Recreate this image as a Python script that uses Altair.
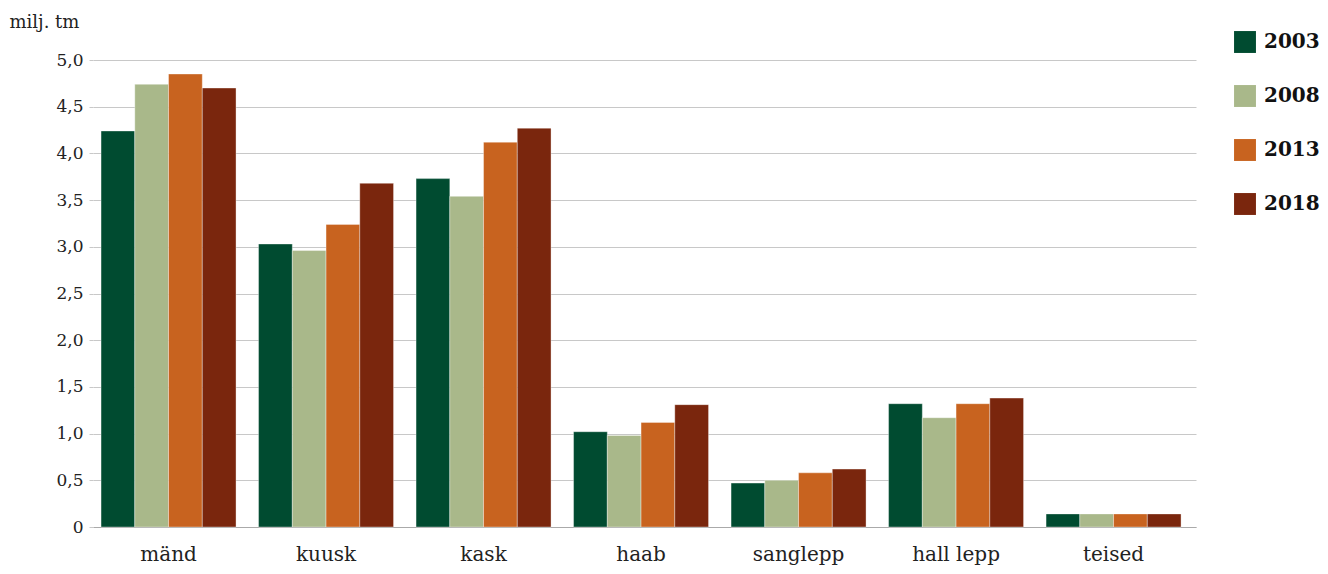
import altair as alt
import pandas as pd

categories = ["mänd", "kuusk", "kask", "haab", "sanglepp", "hall lepp", "teised"]
years = ["2003", "2008", "2013", "2018"]
v2003 = [4.24, 3.03, 3.73, 1.02, 0.47, 1.32, 0.14]
v2008 = [4.74, 2.96, 3.54, 0.98, 0.50, 1.17, 0.14]
v2013 = [4.85, 3.24, 4.12, 1.12, 0.58, 1.32, 0.14]
v2018 = [4.70, 3.68, 4.27, 1.31, 0.62, 1.38, 0.14]
colors = ["#004b30", "#a9b88a", "#c8631f", "#7a260d"]

rows = []
for y, vals in zip(years, [v2003, v2008, v2013, v2018]):
    for c, v in zip(categories, vals):
        rows.append({"liik": c, "aasta": y, "väärtus": v})
df = pd.DataFrame(rows)

FONT = "DejaVu Serif"

chart = alt.Chart(df).mark_bar(stroke="white", strokeWidth=0.6, strokeOpacity=0.6).encode(
    x=alt.X("liik:N", sort=categories,
            scale=alt.Scale(paddingInner=0.143, paddingOuter=0.073, align=0.35),
            axis=alt.Axis(title=None, labelAngle=0, ticks=False, labelPadding=17,
                          labelFontSize=20, labelFont=FONT, labelColor="#222",
                          domainColor="#aaaaaa", domainWidth=1)),
    xOffset=alt.XOffset("aasta:N", sort=years),
    y=alt.Y("väärtus:Q", scale=alt.Scale(domain=[0, 5]),
            axis=alt.Axis(values=[0, 0.5, 1, 1.5, 2, 2.5, 3, 3.5, 4, 4.5, 5],
                          labelExpr="datum.value == 0 ? '0' : replace(format(datum.value, '.1f'), '.', ',')",
                          title="milj. tm", titleAngle=0, titleAlign="left",
                          titleBaseline="alphabetic", titleX=-84, titleY=-33,
                          titleFont=FONT, titleFontSize=18, titleFontWeight="normal",
                          titleColor="#222",
                          labelFont=FONT, labelFontSize=17, labelColor="#222",
                          labelPadding=6, tickSize=4, tickColor="#c8c8c8",
                          domain=False, gridColor="#c8c8c8", gridWidth=1)),
    color=alt.Color("aasta:N", sort=years,
                    scale=alt.Scale(domain=years, range=colors),
                    legend=alt.Legend(title=None, orient="none", legendX=1141, legendY=-29,
                                      symbolType="square", symbolSize=480,
                                      symbolStrokeWidth=0, rowPadding=32,
                                      labelFont=FONT, labelFontSize=20,
                                      labelFontWeight="bold", labelColor="#111",
                                      labelOffset=8)),
).properties(
    width=1103, height=467,
    autosize=alt.AutoSizeParams(type="none"),
    padding={"left": 85, "top": 52, "right": 124, "bottom": 39},
).configure_view(stroke=None)

chart.save("out.html", embed_options={"renderer": "svg", "actions": False})
